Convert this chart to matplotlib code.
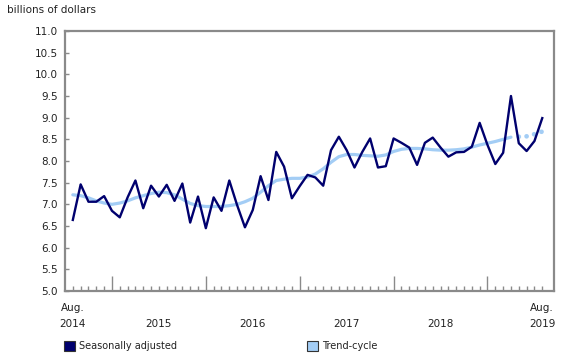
import numpy as np
import matplotlib.pyplot as plt
from matplotlib.patches import Patch
from matplotlib.transforms import blended_transform_factory

# monthly values, Aug 2014 .. Aug 2019 (billions of dollars)
seasonally_adjusted = [
    6.64, 7.46, 7.06, 7.06, 7.19,                                           # 2014
    6.85, 6.70, 7.16, 7.55, 6.91, 7.43, 7.18, 7.45, 7.08, 7.48, 6.58, 7.18,   # 2015
    6.45, 7.16, 6.85, 7.55, 6.98, 6.47, 6.87, 7.65, 7.10, 8.21, 7.87, 7.14,   # 2016
    7.42, 7.68, 7.62, 7.43, 8.25, 8.56, 8.25, 7.85, 8.21, 8.52, 7.85, 7.88,   # 2017
    8.52, 8.42, 8.31, 7.91, 8.42, 8.54, 8.31, 8.10, 8.20, 8.21, 8.33, 8.88,   # 2018
    8.37, 7.93, 8.19, 9.50, 8.41, 8.23, 8.46, 8.99,                           # 2019
]
trend_cycle = [
    7.22, 7.20, 7.15, 7.08, 7.03,
    7.00, 7.03, 7.08, 7.15, 7.20, 7.25, 7.28, 7.27, 7.22, 7.12, 7.02, 6.97,
    6.95, 6.95, 6.95, 6.97, 7.00, 7.06, 7.14, 7.28, 7.43, 7.55, 7.58, 7.60,
    7.60, 7.63, 7.70, 7.82, 7.97, 8.10, 8.15, 8.15, 8.13, 8.12, 8.11, 8.14,
    8.22, 8.27, 8.29, 8.29, 8.28, 8.26, 8.25, 8.25, 8.26, 8.28, 8.32, 8.37,
    8.41, 8.45, 8.50, 8.55, 8.56, 8.57, 8.62, 8.68,
]
n_provisional = 4          # last trend months drawn dotted
year_labels = ["2015", "2016", "2017", "2018"]
first_label = "Aug.\n2014"
last_label = "Aug.\n2019"

months = np.arange(len(seasonally_adjusted))
jan_idx = np.arange(5, len(months), 12)

sa_color = "#00006e"
tc_color = "#a3cdf5"
grey = "#8a8a8a"
txt = "#222222"

plt.rcParams['font.family'] = ['DejaVu Sans']
fig = plt.figure(figsize=(5.8, 3.6), dpi=100)
ax = fig.add_axes([65 / 580, 1 - 291 / 360, (554 - 65) / 580, 260 / 360])

cut = len(months) - n_provisional - 1
ax.plot(months[:cut + 1], trend_cycle[:cut + 1], color=tc_color, lw=2.3,
        solid_capstyle='round', zorder=2)
ax.plot(months[cut + 1:], trend_cycle[cut + 1:], color=tc_color, lw=3.4,
        linestyle=(0, (0.01, 1.64)), dash_capstyle='round', zorder=2)
ax.plot(months, seasonally_adjusted, color=sa_color, lw=1.7, zorder=3)

ax.set_xlim(-1, 61.5)
ax.set_ylim(5.0, 11.0)
ax.set_yticks(np.arange(5.0, 11.01, 0.5))
ax.set_yticklabels([f"{v:.1f}" for v in np.arange(5.0, 11.01, 0.5)])

ax.set_xticks(jan_idx)
ax.set_xticks([m for m in months if m not in jan_idx], minor=True)
ax.tick_params(axis='x', which='major', direction='in', length=11,
               width=1, color=grey, labelbottom=False)
ax.tick_params(axis='x', which='minor', direction='in', length=3.5,
               width=1, color=grey)
ax.tick_params(axis='y', direction='in', length=3, width=1, color=grey,
               labelsize=7.5, labelcolor=txt, pad=5)

for s in ax.spines.values():
    s.set_color(grey)
    s.set_linewidth(1.6)

tr = blended_transform_factory(ax.transData, ax.transAxes)
lab_pos = [months[0]] + list(jan_idx[:-1] + 6) + [months[-1]]
labels = [first_label] + ["\n" + y for y in year_labels] + [last_label]
for xp, lb in zip(lab_pos, labels):
    ax.text(xp, -0.045, lb, transform=tr, ha='center', va='top',
            fontsize=7.5, color=txt, linespacing=1.75)

fig.text(7 / 580, 1 - 10 / 360, "billions of dollars", fontsize=7.5,
         color=txt, va='center', ha='left')

handles = [Patch(facecolor=sa_color, edgecolor="#333333", lw=0.8),
           Patch(facecolor=tc_color, edgecolor="#333333", lw=0.8)]
fig.legend(handles, ["Seasonally adjusted", "Trend-cycle"], ncol=2,
           loc='center left', bbox_to_anchor=(55 / 580, 1 - 346 / 360),
           frameon=False, fontsize=7, handlelength=1.2, handleheight=1.2,
           handletextpad=0.4, columnspacing=13.3, labelcolor=txt)

fig.savefig("out.png", dpi=100)
